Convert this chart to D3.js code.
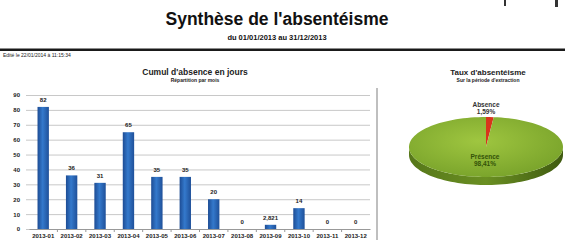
<!DOCTYPE html>
<html>
<head>
<meta charset="utf-8">
<script src="https://cdn.jsdelivr.net/npm/d3@7"></script>
<style>
body { margin: 0; background: #fff; }
svg { display: block; font-family: "Liberation Sans", Arial, sans-serif; }
.grid line { stroke: #c8c8c8; stroke-width: 1; }
.grid path { display: none; }
.grid text { font-size: 6px; font-weight: bold; fill: #222; }
.xaxis path { stroke: #999; }
.xaxis line { stroke: #999; }
.xaxis text { font-size: 6px; font-weight: bold; fill: #222; }
</style>
</head>
<body>
<script>
// data
var months = ["2013-01", "2013-02", "2013-03", "2013-04", "2013-05", "2013-06",
              "2013-07", "2013-08", "2013-09", "2013-10", "2013-11", "2013-12"];
var absenceDays = [82, 36, 31, 65, 35, 35, 20, 0, 2.821, 14, 0, 0];
var yTicks = [0, 10, 20, 30, 40, 50, 60, 70, 80, 90];
var pieNames = ["Absence", "Présence"];
var pieValues = [1.59, 98.41];

var fr = d3.formatLocale({decimal: ",", thousands: " ", grouping: [3], currency: ["", " €"]});
var fmtVal = function(v) { return Math.round(v) === v ? String(v) : fr.format(",.3f")(v); };
var fmtPct = fr.format(".2f");

var W = 565, H = 240;
var svg = d3.select("body").append("svg")
    .attr("width", W)
    .attr("height", H);

var defs = svg.append("defs");
var bg = defs.append("linearGradient").attr("id", "barGrad")
    .attr("x1", "0%").attr("x2", "100%").attr("y1", "0%").attr("y2", "0%");
bg.append("stop").attr("offset", "0%").attr("stop-color", "#1d4c94");
bg.append("stop").attr("offset", "45%").attr("stop-color", "#3479cc");
bg.append("stop").attr("offset", "100%").attr("stop-color", "#1f5099");

var pg = defs.append("radialGradient").attr("id", "pieTop")
    .attr("cx", "45%").attr("cy", "40%").attr("r", "65%");
pg.append("stop").attr("offset", "0%").attr("stop-color", "#9fc640");
pg.append("stop").attr("offset", "100%").attr("stop-color", "#78a22a");

var sg = defs.append("linearGradient").attr("id", "pieSide")
    .attr("x1", "0%").attr("x2", "100%");
sg.append("stop").attr("offset", "0%").attr("stop-color", "#56771a");
sg.append("stop").attr("offset", "50%").attr("stop-color", "#6a8f22");
sg.append("stop").attr("offset", "100%").attr("stop-color", "#3f5a10");

// header
svg.append("text")
    .attr("x", 277).attr("y", 25)
    .attr("text-anchor", "middle")
    .style("font-size", "17.5px").style("font-weight", "bold").style("fill", "#111")
    .text("Synthèse de l'absentéisme");
svg.append("text")
    .attr("x", 277).attr("y", 40)
    .attr("text-anchor", "middle")
    .style("font-size", "7.5px").style("font-weight", "bold").style("fill", "#111")
    .text("du 01/01/2013 au 31/12/2013");

// bits of cut text at top right
svg.append("rect").attr("x", 504).attr("y", 0).attr("width", 2).attr("height", 6).attr("fill", "#333");
svg.append("rect").attr("x", 555).attr("y", 0).attr("width", 3).attr("height", 7).attr("fill", "#333");

svg.append("rect")
    .attr("x", 0).attr("y", 48.5).attr("width", W).attr("height", 2.5)
    .attr("fill", "#1a1a1a");
svg.append("text")
    .attr("x", 3).attr("y", 57)
    .style("font-size", "5px").style("fill", "#222")
    .text("Edité le 22/01/2014 à 11:15:34");

// bar chart
var x = d3.scaleBand()
    .domain(months)
    .range([29, 370])
    .paddingInner(0.6)
    .paddingOuter(0.3);
var y = d3.scaleLinear()
    .domain([0, 90])
    .range([229, 95]);

svg.append("text")
    .attr("x", 195).attr("y", 75)
    .attr("text-anchor", "middle")
    .style("font-size", "8.5px").style("font-weight", "bold").style("fill", "#222")
    .text("Cumul d'absence en jours");
svg.append("text")
    .attr("x", 195).attr("y", 82)
    .attr("text-anchor", "middle")
    .style("font-size", "5px").style("font-weight", "bold").style("fill", "#222")
    .text("Répartition par mois");

svg.append("g")
    .attr("class", "grid")
    .attr("transform", "translate(29,0)")
    .call(d3.axisLeft(y).tickValues(yTicks).tickSizeInner(-341).tickSizeOuter(0).tickPadding(9));
svg.selectAll(".grid .tick line").attr("x1", -3);

svg.append("g")
    .attr("class", "xaxis")
    .attr("transform", "translate(0,229)")
    .call(d3.axisBottom(x).tickSize(0).tickPadding(5));

svg.append("g").selectAll("line")
    .data(months.slice(1))
    .enter().append("line")
    .attr("x1", function(d) { return x(d) - x.step() * x.paddingInner() / 2; })
    .attr("x2", function(d) { return x(d) - x.step() * x.paddingInner() / 2; })
    .attr("y1", 229).attr("y2", 232)
    .attr("stroke", "#999");

svg.append("g").selectAll("rect")
    .data(absenceDays)
    .enter().append("rect")
    .attr("x", function(d, i) { return x(months[i]); })
    .attr("width", x.bandwidth())
    .attr("y", function(d) { return y(d); })
    .attr("height", function(d) { return y(0) - y(d); })
    .attr("fill", "url(#barGrad)");

svg.append("g").selectAll("text")
    .data(absenceDays)
    .enter().append("text")
    .attr("x", function(d, i) { return x(months[i]) + x.bandwidth() / 2; })
    .attr("y", function(d) { return y(d) - 5; })
    .attr("text-anchor", "middle")
    .style("font-size", "6px").style("font-weight", "bold").style("fill", "#222")
    .text(function(d) { return fmtVal(d); });

// separator
svg.append("line")
    .attr("x1", 377).attr("x2", 377)
    .attr("y1", 88).attr("y2", 240)
    .attr("stroke", "#aaa").attr("stroke-width", 1.5);

// pie chart (tilted)
var cx = 486, cy = 147, rx = 77, ry = 30, depth = 8;

svg.append("text")
    .attr("x", 488).attr("y", 75)
    .attr("text-anchor", "middle")
    .style("font-size", "8px").style("font-weight", "bold").style("fill", "#222")
    .text("Taux d'absentéisme");
svg.append("text")
    .attr("x", 488).attr("y", 82)
    .attr("text-anchor", "middle")
    .style("font-size", "5px").style("font-weight", "bold").style("fill", "#222")
    .text("Sur la période d'extraction");

var pie = d3.pie().sort(null).value(function(d) { return d; });
var arcs = pie(pieValues);
var pieColors = ["#d8341c", "url(#pieTop)"];

function pt(a, dy) {
    return [cx + rx * Math.sin(a), cy - ry * Math.cos(a) + (dy || 0)];
}
function arcPoints(a0, a1, dy) {
    var n = Math.max(2, Math.ceil((a1 - a0) / 0.05));
    return d3.range(n + 1).map(function(k) { return pt(a0 + (a1 - a0) * k / n, dy); });
}
var line = d3.line();

// side wall (front half)
var sidePts = arcPoints(Math.PI / 2, 3 * Math.PI / 2, 0)
    .concat(arcPoints(Math.PI / 2, 3 * Math.PI / 2, depth).reverse());
svg.append("path")
    .attr("d", line(sidePts) + "Z")
    .attr("fill", "url(#pieSide)");

svg.append("g").selectAll("path")
    .data(arcs)
    .enter().append("path")
    .attr("d", function(d) {
        return line([[cx, cy]].concat(arcPoints(d.startAngle, d.endAngle, 0))) + "Z";
    })
    .attr("fill", function(d, i) { return pieColors[i]; });

svg.append("text")
    .attr("x", 486).attr("y", 107)
    .attr("text-anchor", "middle")
    .style("font-size", "6.5px").style("font-weight", "bold").style("fill", "#333")
    .text(pieNames[0]);
svg.append("text")
    .attr("x", 486).attr("y", 114)
    .attr("text-anchor", "middle")
    .style("font-size", "6.5px").style("font-weight", "bold").style("fill", "#333")
    .text(fmtPct(pieValues[0]) + "%");
svg.append("text")
    .attr("x", 485).attr("y", 159)
    .attr("text-anchor", "middle")
    .style("font-size", "6.5px").style("font-weight", "bold").style("fill", "#335208")
    .text(pieNames[1]);
svg.append("text")
    .attr("x", 485).attr("y", 166)
    .attr("text-anchor", "middle")
    .style("font-size", "6.5px").style("font-weight", "bold").style("fill", "#335208")
    .text(fmtPct(pieValues[1]) + "%");
</script>
</body>
</html>
